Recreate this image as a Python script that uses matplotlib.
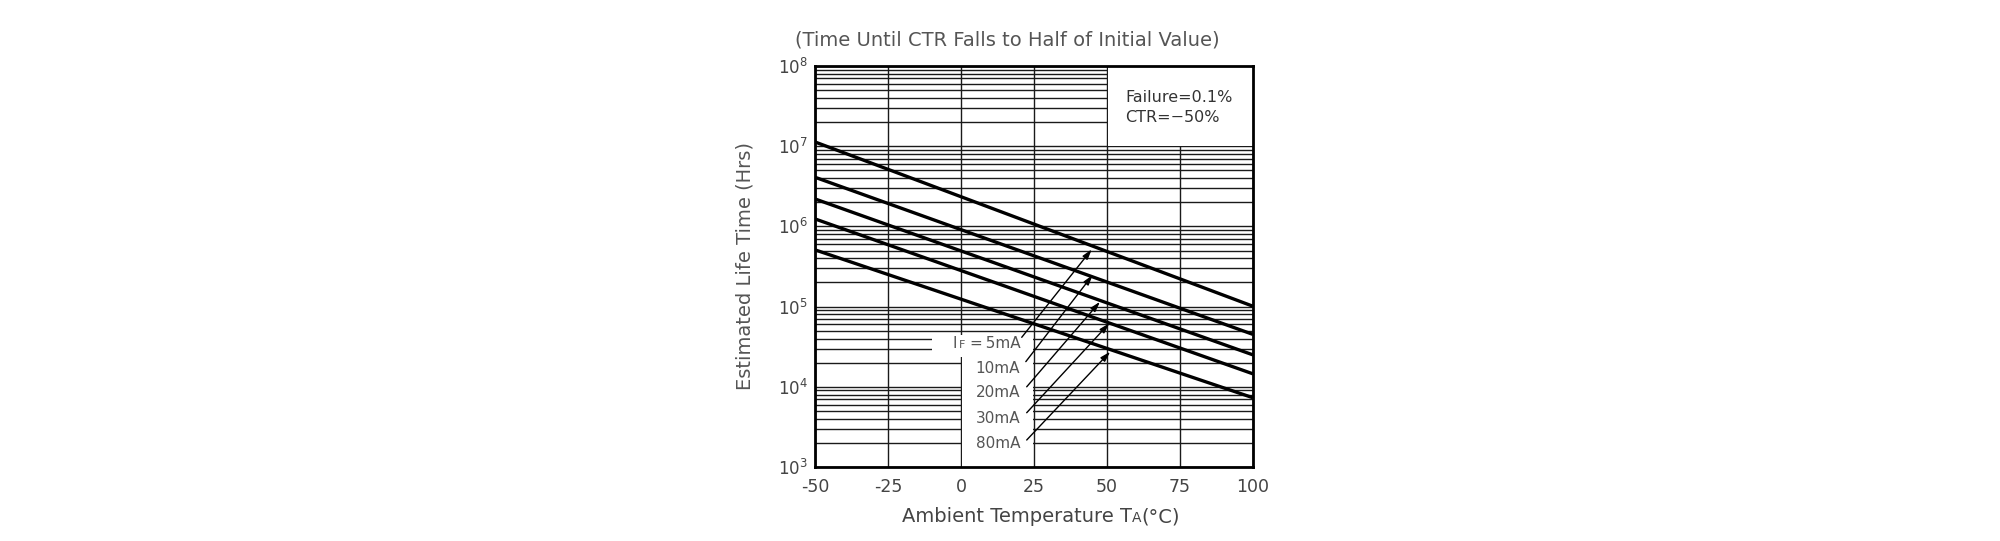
import matplotlib
matplotlib.use("Agg")
import matplotlib.pyplot as plt
import numpy as np
from matplotlib.patches import Rectangle
from matplotlib.ticker import LogLocator, NullFormatter, FixedLocator
from matplotlib.offsetbox import TextArea, HPacker, AnnotationBbox

plt.rcParams["axes.unicode_minus"] = False

# ---- data ----
temps = [-50, 100]
life_5mA = [1.13e7, 1.01e5]
life_10mA = [4.1e6, 4.5e4]
life_20mA = [2.2e6, 2.5e4]
life_30mA = [1.24e6, 1.45e4]
life_80mA = [5.1e5, 7.3e3]
series = [life_5mA, life_10mA, life_20mA, life_30mA, life_80mA]
currents = ["5mA", "10mA", "20mA", "30mA", "80mA"]
x_ticks = [-50, -25, 0, 25, 50, 75, 100]

# annotation layout
label_x = 20.3
label_y = [3.42e4, 1.70e4, 8.4e3, 4.05e3, 1.94e3]
arrow_tail_x = [20.8, 22.2, 22.5, 22.5, 22.5]
arrow_tail_y = [4.14e4, 2.06e4, 1.0e4, 4.75e3, 2.17e3]
arrow_head_x = [44.8, 45.1, 47.6, 50.8, 51.1]
arrow_head_y = [5.18e5, 2.48e5, 1.15e5, 6.2e4, 2.74e4]

GRAY = "#555555"

fig = plt.figure(figsize=(20, 5.41), dpi=100)
ax = fig.add_axes([815/2000, 1-467/541, 438/2000, 401/541])

ax.set_yscale("log")
ax.set_xlim(-50, 100)
ax.set_ylim(1e3, 1e8)
ax.xaxis.set_major_locator(FixedLocator(x_ticks))
ax.yaxis.set_major_locator(LogLocator(base=10, numticks=10))
ax.yaxis.set_minor_locator(LogLocator(base=10, subs=np.arange(2, 10), numticks=20))
ax.yaxis.set_minor_formatter(NullFormatter())
ax.tick_params(which="both", length=0)
ax.tick_params(axis="x", pad=8, labelsize=12.5, labelcolor="#444444")
ax.tick_params(axis="y", pad=5, labelsize=12, labelcolor="#444444")

ax.set_axisbelow(True)
ax.grid(True, which="major", axis="x", color="#1a1a1a", lw=1.0)
ax.grid(True, which="both", axis="y", color="#1a1a1a", lw=1.0)
for sp in ax.spines.values():
    sp.set_linewidth(2.0)
    sp.set_color("black")

# white blank areas
ax.add_patch(Rectangle((50.25, 10**7.006), 49.75, 1e8 - 10**7.006,
                       facecolor="white", edgecolor="none", zorder=1))
ax.add_patch(Rectangle((-10, 10**4.375), 34.8, 10**4.65 - 10**4.375,
                       facecolor="white", edgecolor="none", zorder=1))
ax.add_patch(Rectangle((0.25, 1e3), 24.55, 10**4.375 - 1e3,
                       facecolor="white", edgecolor="none", zorder=1))

for vals in series:
    ax.plot(temps, vals, color="black", lw=2.4, zorder=3, solid_capstyle="butt")

# labels
for i, cur in enumerate(currents):
    if i == 0:
        tp = dict(fontsize=11, color=GRAY)
        tps = dict(fontsize=8, color=GRAY)
        box = HPacker(children=[TextArea("I", textprops=tp),
                                TextArea("F", textprops=tps),
                                TextArea("\u2009=\u20095mA", textprops=tp)],
                      align="baseline", pad=0, sep=1)
        ab = AnnotationBbox(box, (label_x, label_y[i]), xycoords="data",
                            box_alignment=(1, 0.5), frameon=False, pad=0, zorder=4)
        ax.add_artist(ab)
    else:
        ax.text(label_x, label_y[i], cur, ha="right", va="center",
                fontsize=11, color=GRAY, zorder=4)
    ax.annotate("", xy=(arrow_head_x[i], arrow_head_y[i]),
                xytext=(arrow_tail_x[i], arrow_tail_y[i]),
                arrowprops=dict(arrowstyle="-|>,head_length=0.6,head_width=0.18",
                                lw=1.0, color="black", shrinkA=0, shrinkB=0),
                zorder=4)

# legend box text
ax.text(56.2, 4.1e7, "Failure=0.1%", ha="left", va="center", fontsize=11.5,
        color="#333333", zorder=4)
ax.text(56.2, 2.3e7, "CTR=\u221250%", ha="left", va="center", fontsize=11.5,
        color="#333333", zorder=4)

# title & axis labels
fig.text(1007.5/2000, 1-40/541, "(Time Until CTR Falls to Half of Initial Value)",
         ha="center", va="center", fontsize=14, color=GRAY)
fig.text(745/2000, 1-266.5/541, "Estimated Life Time (Hrs)", rotation=90,
         ha="center", va="center", fontsize=14, color=GRAY)

tp = dict(fontsize=14, color="#444444")
tps = dict(fontsize=10, color="#444444")
xl = HPacker(children=[TextArea("Ambient Temperature T", textprops=tp),
                       TextArea("A", textprops=tps),
                       TextArea("(\u00b0C)", textprops=tp)],
             align="baseline", pad=0, sep=0)
ab = AnnotationBbox(xl, (1041/2000, 1-517/541), xycoords="figure fraction",
                    box_alignment=(0.5, 0.5), frameon=False, pad=0)
fig.add_artist(ab)

fig.savefig("out.png", dpi=100, facecolor="white")
